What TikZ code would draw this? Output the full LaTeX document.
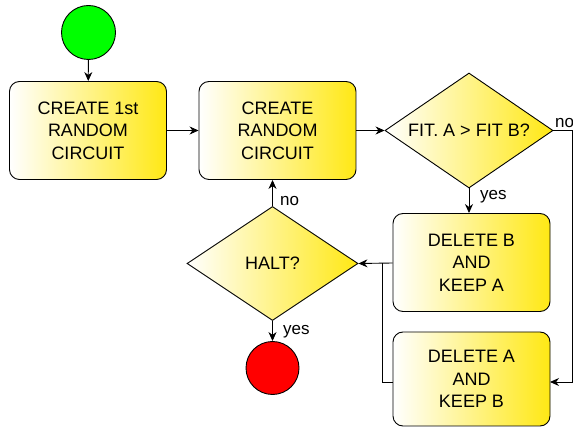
\documentclass[tikz,border=0pt]{standalone}
\usepackage{fontspec}
\setmainfont{Liberation Sans}
\usetikzlibrary{shapes.geometric,arrows.meta}
\definecolor{boxyellow}{RGB}{255,232,20}
\definecolor{startgreen}{RGB}{0,255,0}
\definecolor{stopred}{RGB}{255,0,0}
\tikzset{
  procbox/.style={draw=black, line width=0.9pt, rounded corners=10pt, left color=white, right color=boxyellow, shading angle=90,
    minimum width=157pt, minimum height=98pt, inner sep=0pt, align=center, font=\fontsize{18}{22.5}\selectfont},
  decbox/.style={draw=black, line width=0.9pt, diamond, shape aspect=1.48, left color=white, right color=boxyellow,
    inner sep=0pt, align=center, font=\fontsize{18}{22}\selectfont},
  term/.style={draw=black, line width=0.9pt, circle, minimum size=54pt, inner sep=0pt},
  conn/.style={draw=black, line width=0.9pt, -{Stealth[length=9pt,width=8pt]}},
  plainconn/.style={draw=black, line width=0.9pt},
  lbl/.style={font=\fontsize{17}{20}\selectfont, inner sep=0pt}
}
\begin{document}
\begin{tikzpicture}[x=1pt,y=-1pt]
\useasboundingbox (0,0) rectangle (573,427);
\node[term, fill=startgreen] (start) at (88.5,32.5) {};
\node[procbox] (box1) at (88,130.5) {CREATE 1st\\RANDOM\\CIRCUIT};
\node[procbox] (box2) at (277.5,130.5) {CREATE\\RANDOM\\CIRCUIT};
\node[decbox, minimum width=168pt, minimum height=115pt] (d1) at (469,130.5) {FIT. A > FIT B?};
\node[procbox] (box3) at (471.5,262.5) {DELETE B\\AND\\KEEP A};
\node[procbox, minimum height=94pt] (box4) at (471.5,379) {DELETE A\\AND\\KEEP B};
\node[decbox, minimum width=171pt, minimum height=114pt] (halt) at (272.5,263.5) {HALT?};
\node[term, minimum size=53pt, fill=stopred] (stop) at (272.5,368) {};
\coordinate (rc) at (572,130.5);
\coordinate (j) at (382,263);
\coordinate (b4in) at (550,382);
\draw[conn] (start) -- (box1);
\draw[conn] (box1) -- (box2);
\draw[conn] (box2) -- (d1);
\draw[conn] (d1.south) -- (d1.south |- box3.north);
\draw[conn] (d1.east) -- (rc) |- (b4in);
\draw[conn] (box3.west |- j) -- (halt.east);
\draw[plainconn] (box4.west |- b4in) -| (j);
\draw[conn] (halt.north) -- (halt.north |- box2.south);
\draw[conn] (halt.south) -- (stop.north);
\node[lbl, anchor=base west] (lno1) at (555,128) {no};
\node[lbl, anchor=base west] (lyes1) at (480,200) {yes};
\node[lbl, anchor=base west] (lno2) at (280,206) {no};
\node[lbl, anchor=base west] (lyes2) at (283,335) {yes};
\end{tikzpicture}
\end{document}
